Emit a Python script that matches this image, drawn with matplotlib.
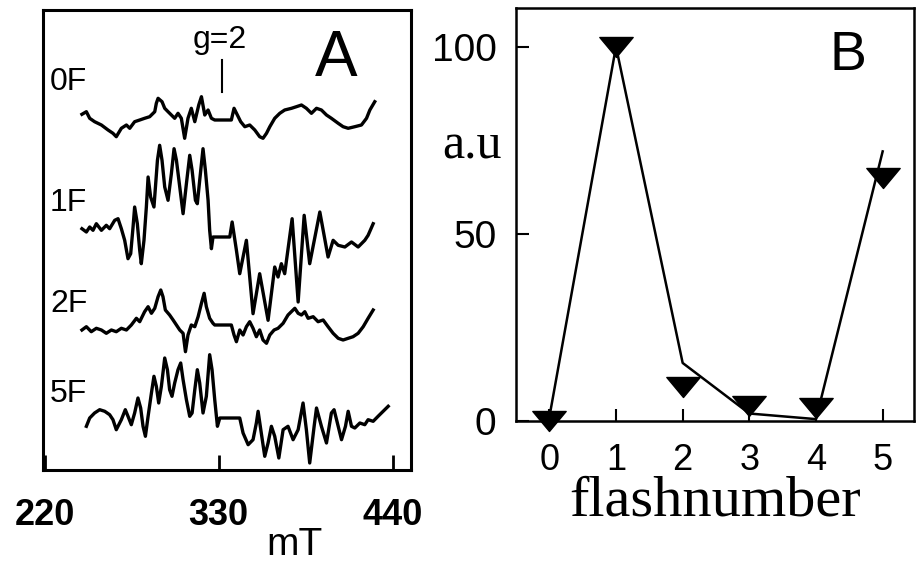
import numpy as np
import matplotlib
matplotlib.use("Agg")
import matplotlib.pyplot as plt
from matplotlib.path import Path

# EPR multiline spectra, field in mT, signal in arb. units
field_0f = [243.6, 246.4, 248.5, 251.6, 255.9, 260.1, 263.2, 265.3, 268.5, 271.7, 273.8, 276.9,
            280.1, 283.2, 286.4, 289.6, 290.6, 291.7, 294.2, 295.9, 298.0, 300.1, 302.2, 304.3,
            306.4, 308.5, 310.6, 312.7, 314.9, 317.4, 319.1, 321.2, 323.3, 325.4, 327.5, 338.0,
            339.7, 341.8, 343.9, 346.5, 349.6, 352.8, 355.9, 358.0, 360.2, 362.3, 365.4, 368.6,
            371.7, 376.0, 379.1, 382.3, 385.4, 388.6, 391.8, 394.9, 398.1, 401.2, 405.5, 408.6,
            411.8, 416.0, 420.2, 423.4, 425.5, 428.6]
sig_0f = [5.7, 8.3, 1.7, -1.7, -5, -10, -13.3, -16.7, -8.3, -5, -8.3, -1.7,
          0, 1.7, 3.3, 8.3, 16.7, 21.7, 18.3, 11.7, 8.3, 5, 1.7, 6.7,
          1.7, -18.3, 1.7, 11.7, -1.7, 15, 23.3, 5, 10, 1.7, 0, 0,
          11.7, 5, -1.7, -6.7, -5, -10, -16.7, -18.3, -13.3, -6.7, 1.7, 6.7,
          10, 11.7, 13.3, 15, 11.7, 6.7, 11.7, 10, 5, 1.7, -3.3, -6.7,
          -8.3, -6.7, -5, 1.7, 10, 18.3]

field_1f = [243.6, 246.4, 248.5, 250.6, 252.7, 255.9, 259.0, 261.1, 264.3, 266.4, 268.5, 270.6,
            272.7, 274.4, 275.9, 276.9, 278.6, 280.1, 281.1, 282.8, 284.3, 285.4, 287.0, 289.1,
            291.3, 292.7, 294.2, 295.9, 298.0, 300.1, 301.8, 303.3, 305.4, 307.5, 309.6, 311.7,
            313.2, 315.3, 316.5, 318.0, 320.1, 321.6, 323.3, 324.3, 325.4, 326.4, 337.0, 338.5,
            341.2, 343.3, 347.5, 351.7, 355.9, 361.2, 365.4, 367.5, 369.6, 371.7, 376.4, 380.2,
            384.0, 387.5, 393.9, 399.1, 402.3, 405.5, 409.7, 413.9, 418.1, 422.3, 424.4, 427.6]
sig_1f = [8.3, 5, 10, 6.7, 13.3, 6.7, 11.7, 8.3, 16.7, 18.3, 8.3, -3.3,
          -21.7, -16.7, 10, 30, 13.3, -13.3, -26.7, -3.3, 30, 60, 40, 30,
          76.7, 91.7, 76.7, 50, 36.7, 63.3, 88.3, 76.7, 50, 23.3, 53.3, 81.7,
          66.7, 36.7, 33.3, 56.7, 88.3, 66.7, 36.7, 6.7, -11.7, 0, 0, 15,
          -13.3, -36.7, -3.3, -76.7, -36.7, -83.3, -30, -40, -26.7, -36.7, 18.3, -65,
          21.7, -26.7, 25, -20, -3.3, -8.3, -10, -5, -10, -3.3, 1.7, 13.3]

field_2f = [243.6, 246.4, 249.5, 252.7, 255.9, 259.0, 262.2, 265.3, 268.5, 271.7, 274.8, 278.0,
            280.1, 283.2, 285.4, 287.5, 289.6, 291.7, 293.4, 294.8, 296.3, 299.0, 301.2, 303.3,
            305.4, 307.5, 309.0, 310.6, 312.7, 314.9, 317.0, 319.1, 320.8, 322.2, 324.3, 326.4,
            327.5, 338.0, 339.7, 341.2, 343.3, 345.4, 347.5, 349.6, 351.7, 353.8, 355.9, 358.0,
            360.2, 362.3, 365.0, 367.5, 370.7, 373.8, 375.9, 378.1, 380.2, 382.3, 384.4, 386.5,
            389.7, 392.8, 396.0, 399.1, 402.3, 405.5, 408.6, 411.8, 414.9, 418.1, 421.3, 424.4,
            427.6]
sig_2f = [-5, -1.7, -6.7, -3.3, -5, -8.3, -5, -6.7, -3.3, -5, 0, 6.7,
          3.3, 13.3, 18.3, 11.7, 16.7, 28.3, 35, 28.3, 15, 10, 5, 0,
          -5, -8.3, -26.7, -10, 0, -1.7, 8.3, 21.7, 31.7, 18.3, 6.7, 1.7,
          0, 0, -10, -16.7, -5, -10, -1.7, 3.3, -3.3, -11.7, -5, -15,
          -18.3, -10, -5, -3.3, 1.7, 10, 13.3, 16.7, 11.7, 10, 13.3, 6.7,
          8.3, 3.3, 5, -1.7, -8.3, -13.3, -15, -13.3, -11.7, -8.3, -1.7, 6.7,
          15]

field_5f = [246.4, 248.5, 251.6, 254.8, 258.0, 261.1, 263.2, 265.3, 268.5, 271.0, 272.7, 274.8,
            276.9, 279.0, 280.7, 282.2, 283.7, 285.4, 287.5, 289.1, 290.6, 292.1, 293.8, 295.9,
            297.6, 299.0, 300.5, 302.2, 304.3, 306.0, 307.5, 309.6, 311.7, 313.2, 314.9, 316.5,
            318.0, 320.1, 322.2, 324.3, 325.8, 327.5, 329.2, 330.7, 343.3, 345.4, 348.6, 351.7,
            353.8, 354.9, 356.6, 359.1, 361.2, 363.3, 365.4, 368.0, 370.7, 373.8, 377.0, 380.2,
            383.3, 385.4, 387.5, 390.3, 391.8, 394.9, 398.1, 401.2, 402.9, 405.5, 407.6, 410.1,
            411.8, 413.9, 416.0, 419.2, 422.3, 424.4, 427.6, 430.7, 433.9, 437.1]
sig_5f = [-8.3, 0, 5, 8.3, 6.7, 3.3, -1.7, -11.7, -1.7, 8.3, 1.7, -6.7,
          5, 20, 10, -8.3, -18.3, 1.7, 25, 41.7, 31.7, 15, 31.7, 60,
          48.3, 28.3, 21.7, 35, 48.3, 55, 38.3, 18.3, 1.7, 5, 28.3, 48.3,
          35, 5, 21.7, 63.3, 48.3, 18.3, -8.3, 0, 0, -15, -26.7, -21.7,
          -5, 6.7, -11.7, -38.3, -25, -8.3, -18.3, -40, -11.7, -8.3, -21.7, -11.7,
          15, -11.7, -45, -8.3, 10, -8.3, -25, 5, 8.3, -8.3, -21.7, -8.3,
          6.7, -8.3, -10, -5, -6.7, -1.7, -3.3, 1.7, 6.7, 11.7]

trace_names = ["0F", "1F", "2F", "5F"]
field_ticks = [220, 330, 440]

# multiline amplitude vs flash number
flashes = [0, 1, 2, 3, 4, 5]
amp_measured = [0, 100, 9, 4, 3.5, 65]
amp_fit = [1, 100, 15.5, 2, 0.5, 72]

sans = ["Liberation Sans", "DejaVu Sans"]
serif = ["Liberation Serif", "DejaVu Serif"]

W, H = 916, 585
fig = plt.figure(figsize=(W / 100, H / 100), dpi=100)

# ---- panel A: spectra ----
axA = fig.add_axes([43 / W, 1 - 470 / H, 368 / W, 460 / H])
axA.set_xlim(219, 451.5)
axA.set_ylim(0, 460)

traces = [(field_0f, sig_0f), (field_1f, sig_1f), (field_2f, sig_2f), (field_5f, sig_5f)]
offsets = [350, 233, 145, 52]
label_y = [388, 267, 166, 76]
for (f, s), off, name, ly in zip(traces, offsets, trace_names, label_y):
    axA.plot(f, np.array(s) + off, color="black", lw=2.4, solid_joinstyle="round")
    axA.text(223.5, ly, name, fontsize=23, family=sans, ha="left", va="center")

axA.text(330.6, 430, "g=2", fontsize=23, family=sans, ha="center", va="center")
axA.plot([331.9, 331.9], [378, 410], color="black", lw=1.5)
axA.text(404, 411, "A", fontsize=46, family=sans, ha="center", va="center")

axA.set_xticks(field_ticks)
axA.set_xticklabels([str(t) for t in field_ticks], fontsize=26, fontweight="bold", family=sans)
axA.tick_params(axis="x", direction="in", length=11, width=2, pad=20)
axA.set_yticks([])
for sp in axA.spines.values():
    sp.set_linewidth(2.2)
fig.text(294 / W, 1 - 545 / H, "mT", fontsize=28, family=sans, ha="center", va="center")

# ---- panel B: flash pattern ----
axB = fig.add_axes([516 / W, 1 - 421 / H, 398 / W, 413 / H])
axB.set_xlim(-0.5, 5.47)
axB.set_ylim(0, 110.3)
axB.plot(flashes, amp_fit, color="black", lw=1.8, clip_on=False)
tri = Path([(-1, 0.6), (1, 0.6), (0, -0.6), (-1, 0.6)], closed=True)
axB.plot(flashes, amp_measured, linestyle="none", marker=tri, markersize=24,
         color="black", clip_on=False)

axB.set_xticks(flashes)
axB.set_xticklabels([str(v) for v in flashes], fontsize=26, family=sans)
axB.set_yticks([0, 50, 100])
axB.set_yticklabels(["0", "50", "100"], fontsize=28, family=sans)
axB.tick_params(axis="x", direction="in", length=9, width=1.5, pad=16)
axB.tick_params(axis="y", direction="in", length=9, width=1.5, pad=14)
for sp in axB.spines.values():
    sp.set_linewidth(1.8)
axB.set_xlabel("flashnumber", fontsize=42, family=serif, labelpad=-2)
axB.text(0.834, 0.884, "B", transform=axB.transAxes, fontsize=40, family=sans,
         ha="center", va="center")
fig.text(472 / W, 1 - 146 / H, "a.u", fontsize=36, family=serif, ha="center", va="center")

fig.savefig("out.png", dpi=100)
